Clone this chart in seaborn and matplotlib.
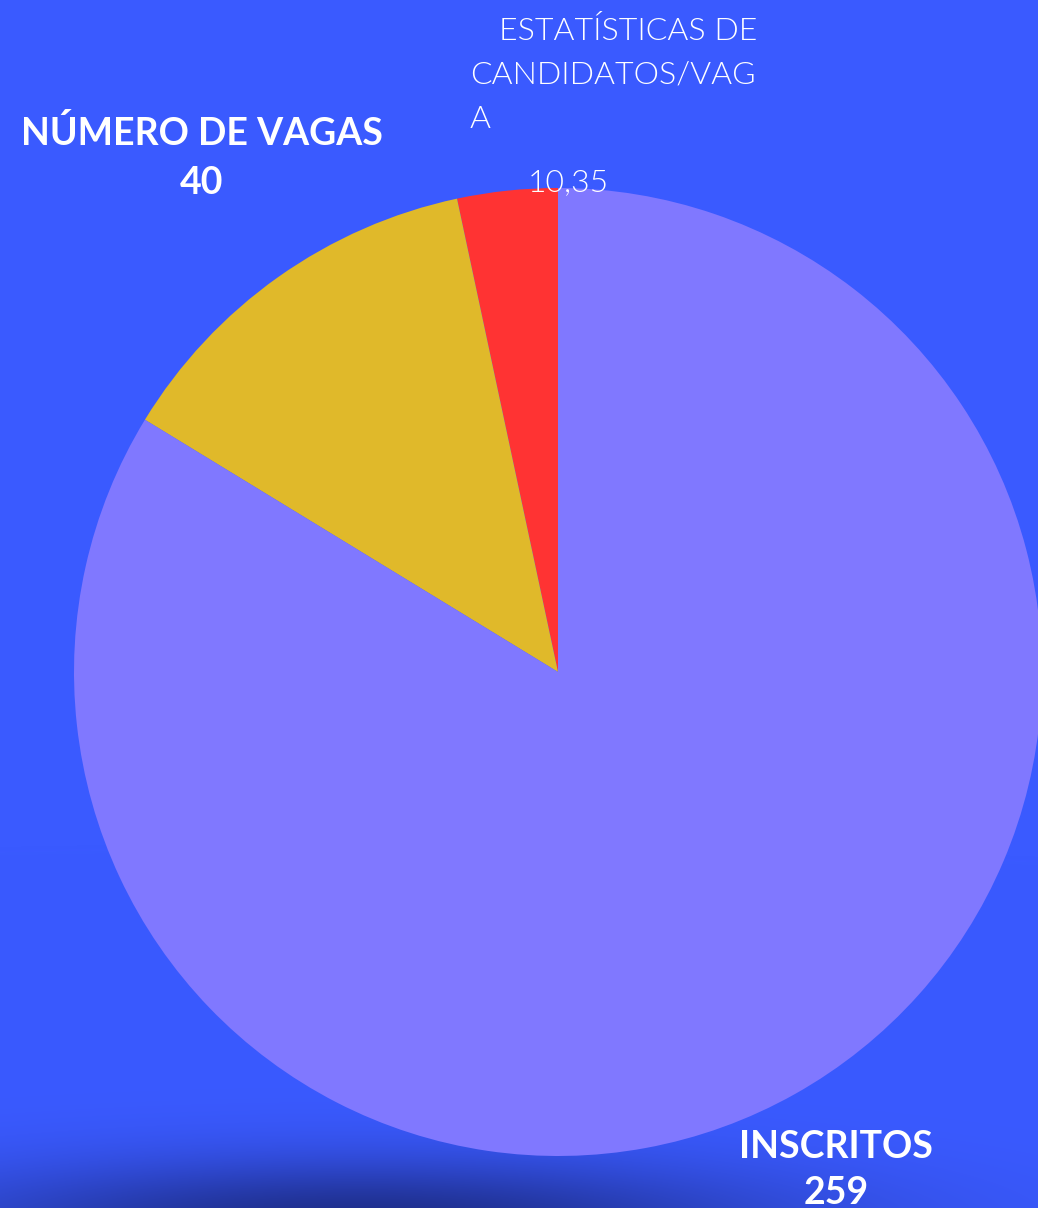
import numpy as np
import matplotlib
matplotlib.use('Agg')
import matplotlib.pyplot as plt
import seaborn as sns

# data
labels = ["ESTATÍSTICAS DE CANDIDATOS/VAGA", "NÚMERO DE VAGAS", "INSCRITOS"]
values = [10.35, 40, 259]
value_text = ["10,35", "40", "259"]
colors = ["#FF3333", "#E0B92A", "#8078FF"]

BG = "#3A5AFF"

sns.set_theme(style="white")
plt.rcParams['font.family'] = ['Lato', 'DejaVu Sans']

W, H = 1038, 1208
fig = plt.figure(figsize=(W / 100, H / 100), dpi=100, facecolor=BG)

# background with the dark blurred shadow at the bottom left
bg_ax = fig.add_axes([0, 0, 1, 1])
yy, xx = np.mgrid[0:H, 0:W]
mask = np.exp(-(((xx - 360) / 420.0) ** 2 + ((yy - 1222) / 62.0) ** 2))
base = np.array(matplotlib.colors.to_rgb(BG))
dark = np.array(matplotlib.colors.to_rgb("#1E2E8A"))
img = base[None, None, :] * (1 - mask[..., None]) + dark[None, None, :] * mask[..., None]
bg_ax.imshow(img, extent=[0, W, H, 0], aspect='auto')
bg_ax.set_axis_off()

# pie: centre (558, 672), radius ~484 px
cx, cy, r = 558, 672, 484
ax = fig.add_axes([(cx - r) / W, (H - cy - r) / H, 2 * r / W, 2 * r / H])
ax.pie(values, colors=sns.color_palette(colors), startangle=90, counterclock=True,
       radius=1.0, wedgeprops=dict(linewidth=0))
ax.set_xlim(-1, 1)
ax.set_ylim(-1, 1)
ax.set_axis_off()

def px(x, y):
    return x / W, 1 - y / H

# labels
bold = dict(color="white", fontweight="bold", fontsize=27, ha="center", va="center")
fig.text(*px(202, 133), "NÚMERO DE VAGAS", **bold)
fig.text(*px(202, 183), value_text[1], **bold)
fig.text(*px(836, 1147), "INSCRITOS", **bold)
fig.text(*px(836, 1193), value_text[2], **bold)

light = dict(color="white", fontweight=300, fontsize=23, va="center")
fig.text(*px(757, 31), "ESTATÍSTICAS DE", ha="right", **light)
fig.text(*px(470, 75), "CANDIDATOS/VAG", ha="left", **light)
fig.text(*px(470, 119), "A", ha="left", **light)
fig.text(*px(568, 183), value_text[0], ha="center", **light)

fig.savefig("out.png", dpi=100, facecolor=BG)
